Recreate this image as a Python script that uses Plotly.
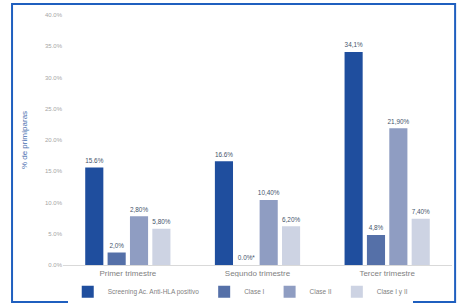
import plotly.graph_objects as go

categories = ["Primer trimestre", "Segundo trimestre", "Tercer trimestre"]
series_names = ["Screening Ac. Anti-HLA positivo", "Clase I", "Clase II", "Clase I y II"]
screening = [15.6, 16.6, 34.1]
clase_i = [2.0, 0.0, 4.8]
clase_ii = [7.8, 10.4, 21.9]
clase_i_ii = [5.8, 6.2, 7.4]
screening_labels = ["15.6%", "16.6%", "34,1%"]
clase_i_labels = ["2,0%", "0.0%*", "4,8%"]
clase_ii_labels = ["2,80%", "10,40%", "21,90%"]
clase_i_ii_labels = ["5,80%", "6,20%", "7,40%"]
y_ticks = [0, 5, 10, 15, 20, 25, 30, 35, 40]
y_tick_labels = ["0.0%", "5.0%", "10.0%", "15.0%", "20.0%", "25.0%", "30.0%", "35.0%", "40.0%"]

colors = ["#1f4e9e", "#5570a8", "#8f9dc2", "#cdd3e3"]
values = [screening, clase_i, clase_ii, clase_i_ii]
labels = [screening_labels, clase_i_labels, clase_ii_labels, clase_i_ii_labels]

fig = go.Figure()
for name, vals, labs, col in zip(series_names, values, labels, colors):
    fig.add_trace(go.Bar(
        name=name, x=categories, y=vals, text=labs,
        textposition="outside", cliponaxis=False,
        marker=dict(color=col, line=dict(width=0)),
        textfont=dict(size=8, color="#44546a"),
    ))

fig.update_layout(
    width=462, height=304,
    margin=dict(l=63, r=10, t=15, b=39, autoexpand=False),
    paper_bgcolor="white", plot_bgcolor="white",
    barmode="group", bargap=0.31, bargroupgap=0.19,
    font=dict(family="Liberation Sans, Arial, sans-serif", color="#7f7f7f"),
    showlegend=True,
    legend=dict(orientation="h", x=0.52, xanchor="center", xref="container",
                y=0.04, yanchor="middle", yref="container",
                font=dict(size=6.5, color="#7f7f7f"), itemwidth=30,
                traceorder="normal", tracegroupgap=0),
    uniformtext=dict(minsize=6, mode="show"),
)
fig.update_xaxes(showline=True, linecolor="#d9d9d9", linewidth=1, ticks="",
                 tickfont=dict(size=8, color="#7f7f7f"), showgrid=False, automargin=False)
fig.update_yaxes(range=[0, 40], tickvals=y_ticks, ticktext=y_tick_labels,
                 showgrid=False, zeroline=False, showline=False, automargin=False,
                 tickfont=dict(size=6, color="#a6a6a6"),
                 title=dict(text="% de primíparas", font=dict(size=8, color="#4a6fb0"), standoff=16))

fig.add_shape(type="rect", xref="paper", yref="paper",
              x0=-0.131, x1=1.008, y0=-0.148, y1=1.044,
              line=dict(color="#1f5fbf", width=2), fillcolor="rgba(0,0,0,0)")

fig.write_html("out.html", config={"displayModeBar": False},
               post_script="document.body.style.margin='0';document.body.style.overflow='hidden';")
